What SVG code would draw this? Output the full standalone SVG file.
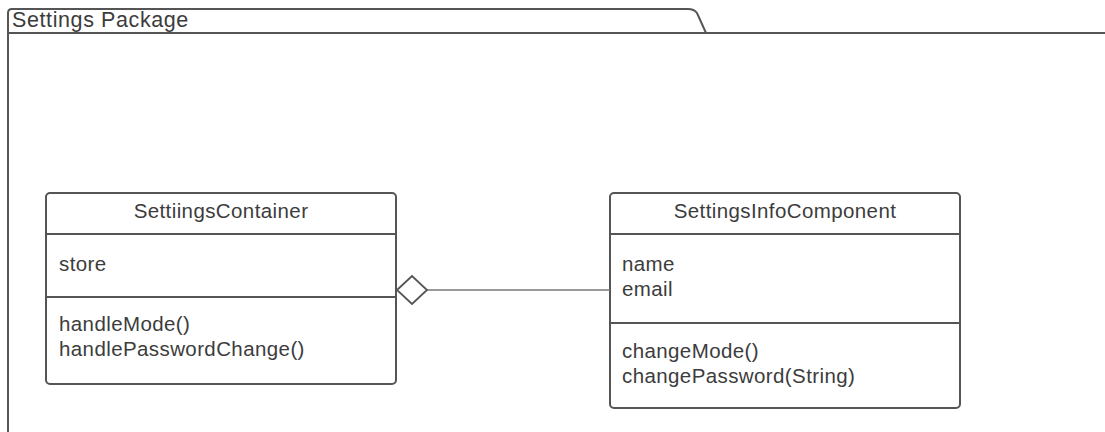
<svg xmlns="http://www.w3.org/2000/svg" width="1105" height="432" viewBox="0 0 1105 432">
<style>
.frame{fill:#fff;stroke:#555;stroke-width:2}
.box{fill:#fff;stroke:#555;stroke-width:2}
.div{stroke:#555;stroke-width:2}
.t{font-family:"Liberation Sans",Arial,sans-serif;font-size:20.5px;letter-spacing:0.4px;fill:#3c3c3c}
.c{text-anchor:middle}
.conn{stroke:#777;stroke-width:1.5;fill:none}
</style>
<rect width="1105" height="432" fill="#fff"/>
<g id="package">
<path class="frame" d="M8,432 L8,13 Q8,9 12,9 L688,9 Q694,9 697,13 L706,33 L1106,33"/>
<line class="div" x1="8" y1="33" x2="706" y2="33"/>
<text class="t" x="12" y="27" style="font-size:21.5px;letter-spacing:0.6px">Settings Package</text>
</g>
<g id="SettiingsContainer">
<rect class="box" x="46" y="193" width="350" height="191" rx="4"/>
<line class="div" x1="46" y1="234" x2="396" y2="234"/>
<line class="div" x1="46" y1="297" x2="396" y2="297"/>
<text class="t c" x="221" y="218">SettiingsContainer</text>
<text class="t" x="59" y="271">store</text>
<text class="t" x="59" y="331">handleMode()</text>
<text class="t" x="59" y="356">handlePasswordChange()</text>
</g>
<g id="SettingsInfoComponent">
<rect class="box" x="610" y="193" width="350" height="215" rx="4"/>
<line class="div" x1="610" y1="234" x2="960" y2="234"/>
<line class="div" x1="610" y1="323" x2="960" y2="323"/>
<text class="t c" x="785" y="218">SettingsInfoComponent</text>
<text class="t" x="622" y="271">name</text>
<text class="t" x="622" y="296">email</text>
<text class="t" x="622" y="358">changeMode()</text>
<text class="t" x="622" y="383">changePassword(String)</text>
</g>
<g id="connectors">
<line class="conn" x1="426" y1="290" x2="610" y2="290"/>
<path d="M397,290 L412,276 L427,290 L412,304 Z" fill="#fff" stroke="#555" stroke-width="1.8"/>
</g>
</svg>
